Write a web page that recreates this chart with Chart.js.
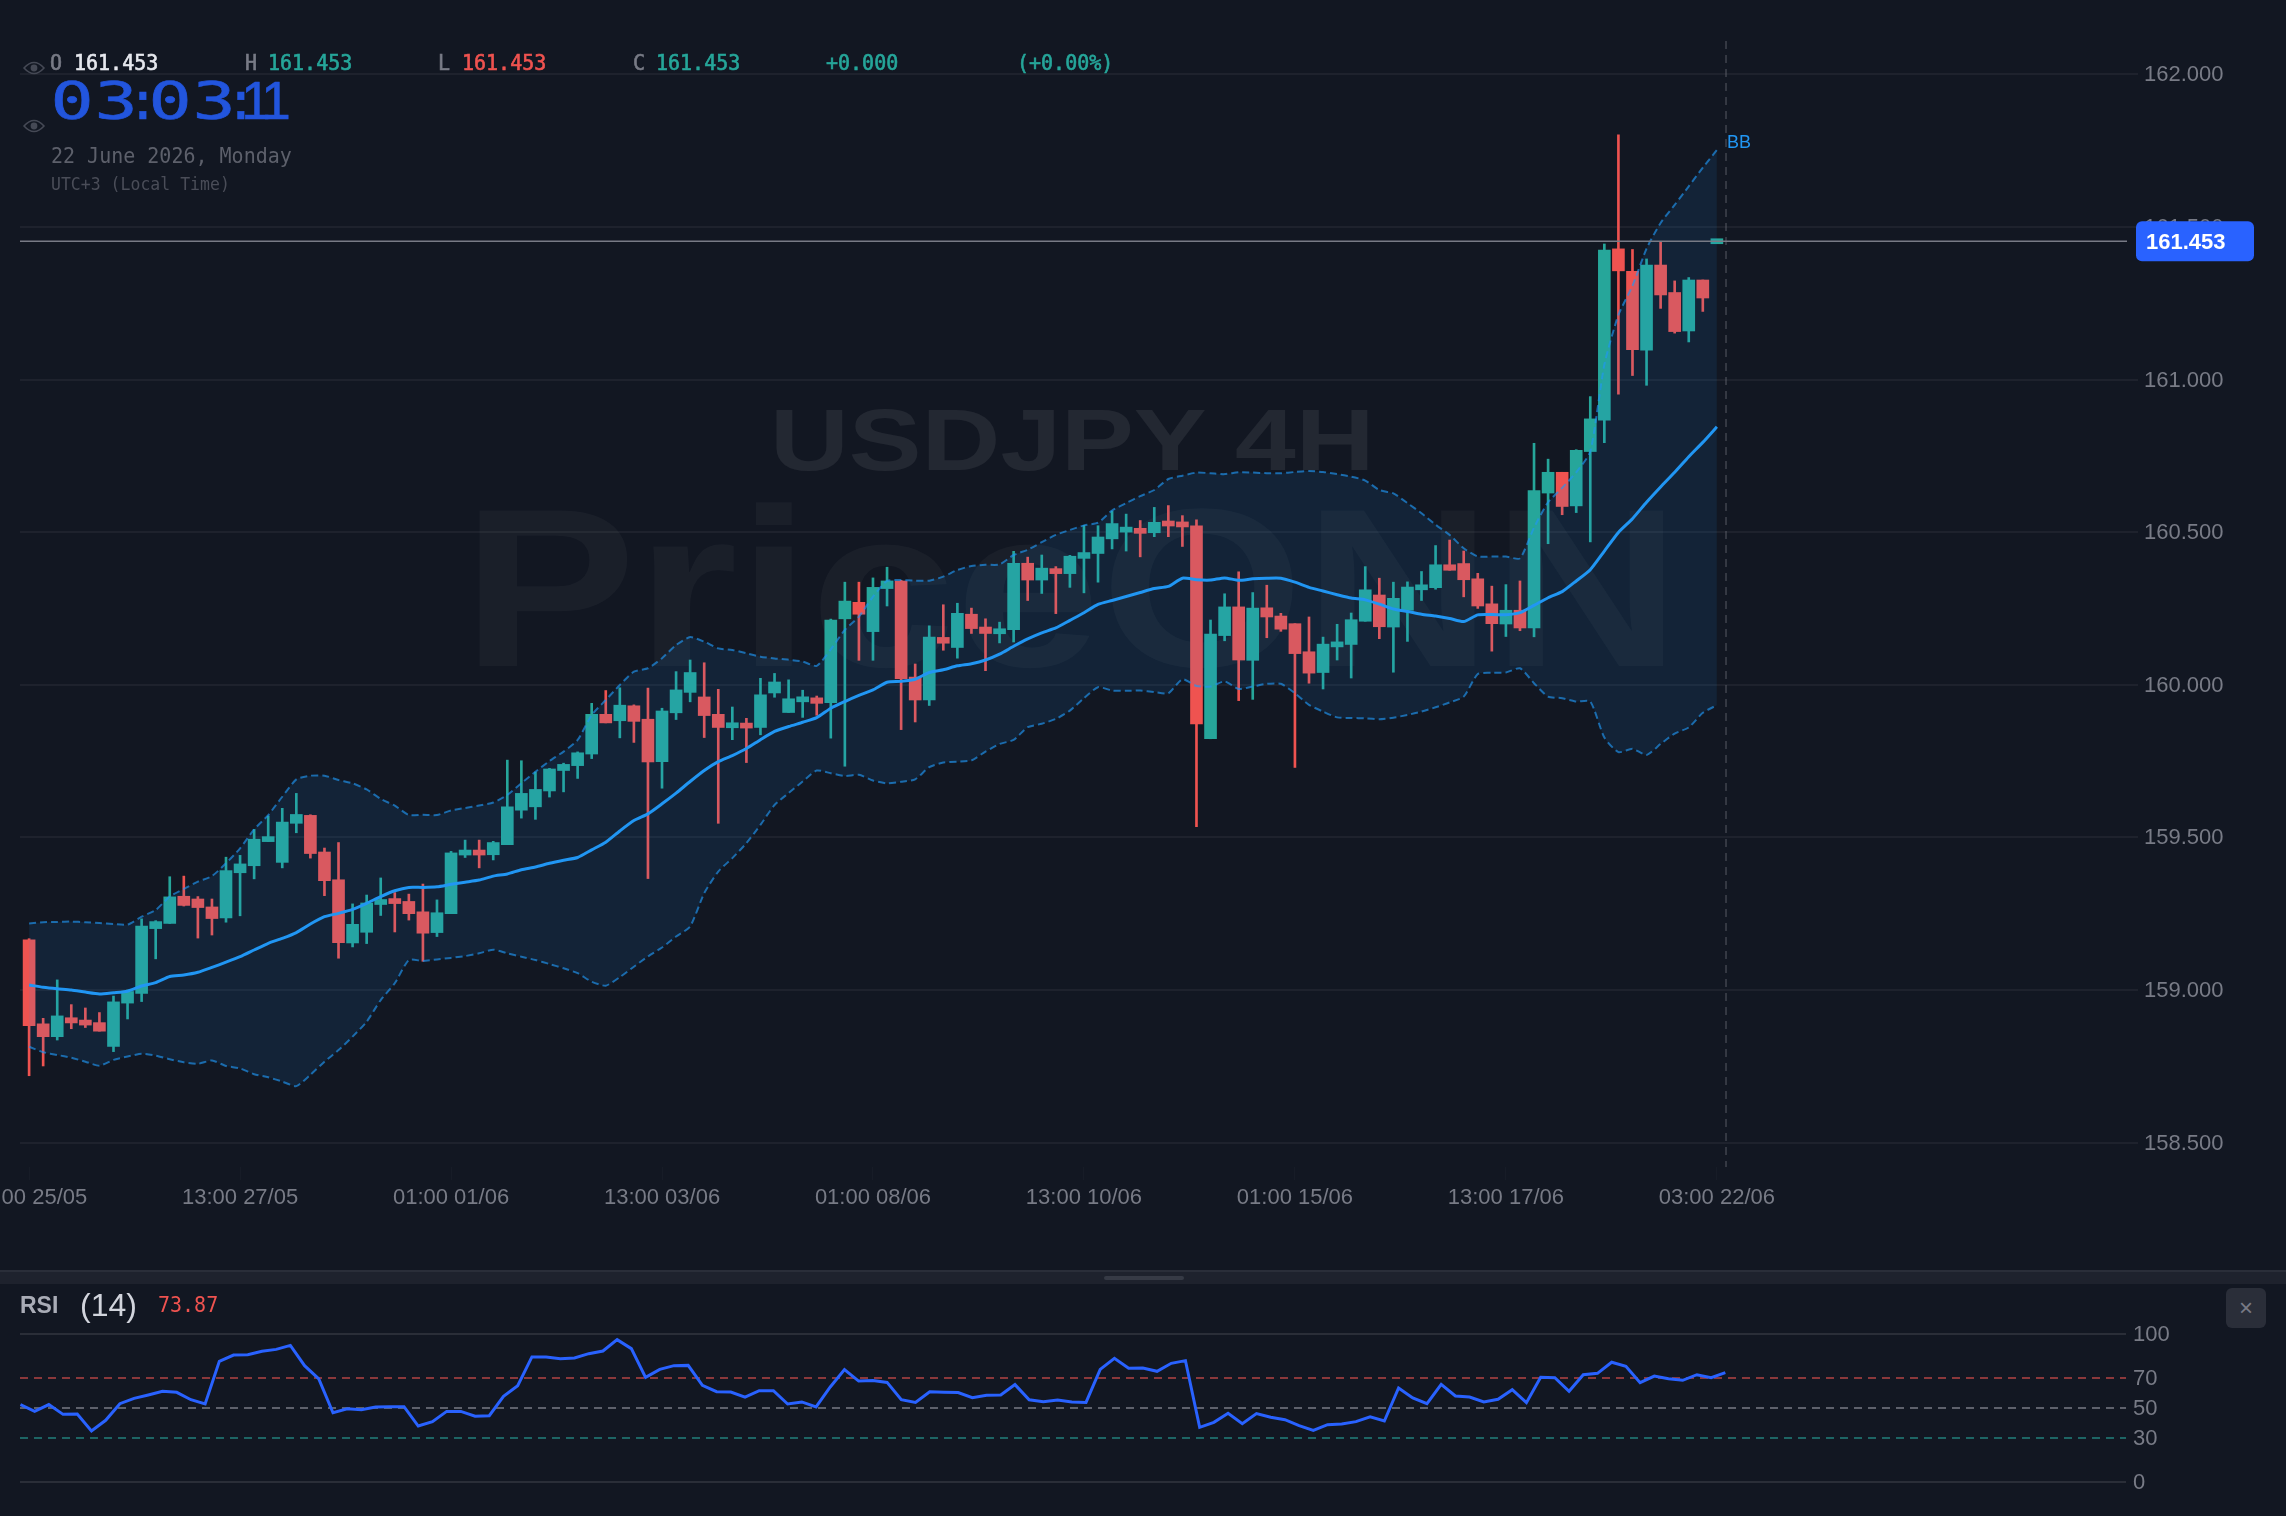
<!DOCTYPE html>
<html lang="en">
  <head>
    <meta charset="UTF-8">
    <title>USDJPY 4H</title>
    <script src="https://cdn.jsdelivr.net/npm/chart.js@4.4.7/dist/chart.umd.min.js"></script>
    <style>
    html, body { margin: 0; padding: 0; background: #121722; }
    body { position: relative; width: 2286px; height: 1516px; overflow: hidden; font-family: "Liberation Sans", sans-serif; }
    canvas { position: absolute; left: 0; display: block; }
    #priceChart { top: 0; }
    #rsiChart { top: 1284px; }
    .abs { position: absolute; white-space: nowrap; }
    .mono { font: 20px/24px "DejaVu Sans Mono", monospace; transform: scaleY(1.06); transform-origin: left center; }
    .heavy { -webkit-text-stroke: 0.6px currentColor; }
    .mark { font-weight: 700; line-height: 1; transform-origin: left top; }
    #wmSymbol { left: 770px; top: 396px; font-size: 88px; color: rgba(255,255,255,0.075); transform: scaleX(1.24); }
    #wmBrand { left: 462px; top: 475px; font-size: 226px; color: rgba(255,255,255,0.035); transform: scaleX(1.155); }
    #clock { left: 50px; top: 71px; font: 52px/60px "DejaVu Sans Mono", monospace; color: #2255dd; -webkit-text-stroke: 0.6px #2255dd; }
    #clock span { display: inline-flex; justify-content: center; width: 44px; transform: scaleX(1.38); }
    #clock span.sep { width: 10px; transform: none; }
    #clock span.one { width: 20px; transform: none; font-family: "Liberation Sans"; font-size: 53px; }
    #divider { left: 0; top: 1270px; width: 2286px; height: 14px; background: #1e222d; border-top: 2px solid #2a2e39; box-sizing: border-box; }
    #grip { left: 1104px; top: 1276px; width: 80px; height: 4px; border-radius: 2px; background: #363a45; }
    #closeBtn { left: 2226px; top: 1288px; width: 40px; height: 40px; border-radius: 6px; background: #2a2e39; color: #787b86; font-size: 24px; line-height: 40px; text-align: center; }
    </style>
  </head>
  <body>
    <div class="abs mark" id="wmSymbol">USDJPY 4H</div>
    <div class="abs mark" id="wmBrand">PriceONN</div>
    <canvas id="priceChart" width="2286" height="1268"></canvas>
    <canvas id="rsiChart" width="2286" height="232"></canvas>

    <svg class="abs" style="left:23px;top:60px" width="22" height="16" viewBox="0 0 22 16"><path d="M1 8 Q11 -3 21 8 Q11 19 1 8 Z" fill="none" stroke="#454955" stroke-width="1.6"/><circle cx="11" cy="8" r="3.4" fill="#454955"/></svg>
    <svg class="abs" style="left:23px;top:118px" width="22" height="16" viewBox="0 0 22 16"><path d="M1 8 Q11 -3 21 8 Q11 19 1 8 Z" fill="none" stroke="#454955" stroke-width="1.6"/><circle cx="11" cy="8" r="3.4" fill="#454955"/></svg>

    <div class="abs mono heavy" style="left:50px;top:51px;color:#787b86">O</div>
    <div class="abs mono heavy" style="left:74px;top:51px;color:#e6e8ee">161.453</div>
    <div class="abs mono heavy" style="left:245px;top:51px;color:#787b86">H</div>
    <div class="abs mono heavy" style="left:268px;top:51px;color:#26a69a">161.453</div>
    <div class="abs mono heavy" style="left:438px;top:51px;color:#787b86">L</div>
    <div class="abs mono heavy" style="left:462px;top:51px;color:#ef5350">161.453</div>
    <div class="abs mono heavy" style="left:633px;top:51px;color:#787b86">C</div>
    <div class="abs mono heavy" style="left:656px;top:51px;color:#26a69a">161.453</div>
    <div class="abs mono heavy" style="left:826px;top:51px;color:#26a69a">+0.000</div>
    <div class="abs mono heavy" style="left:1017px;top:51px;color:#26a69a">(+0.00%)</div>

    <div class="abs" id="clock"><span>0</span><span>3</span><span class="sep">:</span><span>0</span><span>3</span><span class="sep">:</span><span class="one">1</span><span class="one">1</span></div>
    <div class="abs mono" style="left:51px;top:144px;color:#5d606b">22 June 2026, Monday</div>
    <div class="abs mono" style="left:51px;top:173px;color:#4a4d58;font-size:16.5px">UTC+3 (Local Time)</div>

    <div class="abs" id="divider"></div>
    <div class="abs" id="grip"></div>
    <div class="abs" style="left:20px;top:1292px;font-size:23px;line-height:26px;font-weight:700;color:#a9acb6">RSI</div>
    <div class="abs" style="left:80px;top:1286px;font-size:32px;line-height:38px;color:#d1d4dc">(14)</div>
    <div class="abs mono" style="left:158px;top:1293px;color:#ef5350">73.87</div>
    <div class="abs" id="closeBtn">×</div>

    <script>
    const lastPrice = 161.453;
    const nowIndex = 120.65;

    const xTickLabels = ['01:00 25/05', '13:00 27/05', '01:00 01/06', '13:00 03/06', '01:00 08/06', '13:00 10/06', '01:00 15/06', '13:00 17/06', '03:00 22/06'];
    const rsiTicks = [0, 30, 50, 70, 100];

    const opens = [
      159.164, 158.889, 158.847, 158.909, 158.898, 158.893, 158.815, 158.957, 158.989, 159.201,
      159.218, 159.307, 159.298, 159.272, 159.236, 159.384, 159.407, 159.486, 159.418, 159.546,
      159.572, 159.452, 159.361, 159.154, 159.189, 159.280, 159.295, 159.290, 159.256, 159.188,
      159.250, 159.442, 159.456, 159.443, 159.476, 159.589, 159.600, 159.652, 159.719, 159.735,
      159.773, 159.903, 159.882, 159.931, 159.887, 159.748, 159.908, 159.975, 159.960, 159.903,
      159.859, 159.872, 159.860, 159.973, 159.909, 159.944, 159.957, 159.941, 160.216, 160.270,
      160.174, 160.315, 160.340, 160.025, 159.950, 160.155, 160.122, 160.231, 160.189, 160.167,
      160.180, 160.398, 160.343, 160.379, 160.364, 160.414, 160.430, 160.478, 160.500, 160.510,
      160.498, 160.532, 160.529, 160.521, 159.823, 160.161, 160.255, 160.080, 160.252, 160.225,
      160.200, 160.108, 160.040, 160.124, 160.132, 160.208, 160.294, 160.189, 160.244, 160.311,
      160.318, 160.393, 160.397, 160.347, 160.265, 160.199, 160.244, 160.186, 160.628, 160.696,
      160.586, 160.764, 160.867, 161.428, 161.354, 161.096, 161.375, 161.285, 161.159, 161.326,
      161.453
    ];
    const highs = [
      159.168, 158.907, 159.033, 158.952, 158.941, 158.926, 158.980, 159.000, 159.233, 159.227,
      159.371, 159.373, 159.306, 159.298, 159.435, 159.441, 159.526, 159.570, 159.595, 159.644,
      159.574, 159.465, 159.483, 159.282, 159.311, 159.367, 159.319, 159.314, 159.347, 159.295,
      159.454, 159.491, 159.491, 159.487, 159.753, 159.751, 159.714, 159.726, 159.743, 159.780,
      159.939, 159.981, 159.990, 159.934, 159.989, 159.923, 160.043, 160.081, 160.072, 159.985,
      159.927, 159.890, 160.021, 160.037, 160.016, 159.982, 159.963, 160.215, 160.336, 160.336,
      160.350, 160.385, 160.342, 160.068, 160.193, 160.262, 160.267, 160.251, 160.216, 160.205,
      160.437, 160.418, 160.425, 160.387, 160.424, 160.522, 160.521, 160.569, 160.559, 160.538,
      160.581, 160.587, 160.554, 160.540, 160.212, 160.298, 160.370, 160.302, 160.326, 160.234,
      160.200, 160.222, 160.156, 160.198, 160.235, 160.387, 160.349, 160.336, 160.337, 160.371,
      160.456, 160.474, 160.438, 160.365, 160.323, 160.328, 160.340, 160.791, 160.739, 160.696,
      160.770, 160.944, 161.444, 161.802, 161.426, 161.395, 161.452, 161.323, 161.334, 161.326,
      161.453
    ];
    const lows = [
      158.719, 158.751, 158.836, 158.873, 158.877, 158.865, 158.798, 158.905, 158.962, 159.102,
      159.218, 159.275, 159.170, 159.180, 159.222, 159.243, 159.364, 159.486, 159.400, 159.515,
      159.432, 159.309, 159.104, 159.141, 159.152, 159.244, 159.190, 159.229, 159.094, 159.175,
      159.250, 159.434, 159.400, 159.426, 159.476, 159.563, 159.559, 159.632, 159.649, 159.693,
      159.758, 159.875, 159.826, 159.811, 159.365, 159.661, 159.886, 159.944, 159.827, 159.546,
      159.820, 159.745, 159.836, 159.959, 159.909, 159.893, 159.900, 159.825, 159.733, 160.080,
      160.080, 160.258, 159.853, 159.878, 159.932, 160.113, 160.087, 160.168, 160.046, 160.137,
      160.140, 160.276, 160.299, 160.233, 160.319, 160.301, 160.336, 160.445, 160.438, 160.419,
      160.485, 160.485, 160.453, 159.535, 159.823, 160.144, 159.948, 159.952, 160.154, 160.175,
      159.729, 160.005, 159.986, 160.081, 160.022, 160.208, 160.151, 160.041, 160.142, 160.276,
      160.313, 160.375, 160.288, 160.250, 160.110, 160.158, 160.177, 160.157, 160.462, 160.557,
      160.564, 160.468, 160.793, 160.952, 161.013, 160.981, 161.233, 161.152, 161.123, 161.223,
      161.453
    ];
    const closes = [
      158.883, 158.847, 158.915, 158.892, 158.885, 158.865, 158.961, 158.995, 159.209, 159.224,
      159.305, 159.277, 159.270, 159.234, 159.391, 159.413, 159.494, 159.502, 159.550, 159.575,
      159.447, 159.358, 159.155, 159.215, 159.285, 159.295, 159.283, 159.250, 159.186, 159.253,
      159.449, 159.455, 159.442, 159.483, 159.600, 159.644, 159.657, 159.724, 159.739, 159.777,
      159.903, 159.875, 159.933, 159.880, 159.747, 159.914, 159.983, 160.040, 159.899, 159.860,
      159.872, 159.858, 159.967, 160.009, 159.954, 159.956, 159.939, 160.212, 160.274, 160.231,
      160.319, 160.340, 160.020, 159.950, 160.156, 160.136, 160.234, 160.184, 160.168, 160.183,
      160.398, 160.343, 160.382, 160.364, 160.421, 160.433, 160.484, 160.528, 160.514, 160.496,
      160.532, 160.520, 160.517, 159.872, 160.166, 160.255, 160.081, 160.251, 160.222, 160.182,
      160.102, 160.038, 160.133, 160.136, 160.213, 160.311, 160.190, 160.283, 160.320, 160.323,
      160.393, 160.375, 160.344, 160.258, 160.200, 160.244, 160.186, 160.636, 160.696, 160.584,
      160.768, 160.871, 161.424, 161.356, 161.098, 161.375, 161.277, 161.157, 161.326, 161.267,
      161.453
    ];

    const bbUpper = [
      159.218, 159.222, 159.223, 159.224, 159.222, 159.219, 159.216, 159.214, 159.240, 159.262,
      159.306, 159.331, 159.355, 159.373, 159.415, 159.464, 159.526, 159.573, 159.633, 159.690,
      159.702, 159.702, 159.688, 159.677, 159.657, 159.626, 159.604, 159.573, 159.574, 159.573,
      159.588, 159.596, 159.604, 159.614, 159.639, 159.677, 159.715, 159.750, 159.781, 159.819,
      159.901, 159.950, 159.999, 160.043, 160.054, 160.087, 160.130, 160.156, 160.141, 160.119,
      160.114, 160.103, 160.092, 160.086, 160.082, 160.076, 160.062, 160.116, 160.180, 160.223,
      160.289, 160.340, 160.343, 160.341, 160.341, 160.354, 160.376, 160.389, 160.393, 160.394,
      160.425, 160.442, 160.467, 160.491, 160.507, 160.522, 160.531, 160.571, 160.595, 160.618,
      160.638, 160.674, 160.685, 160.695, 160.693, 160.690, 160.696, 160.695, 160.693, 160.693,
      160.697, 160.700, 160.697, 160.690, 160.682, 160.669, 160.638, 160.627, 160.595, 160.562,
      160.524, 160.491, 160.447, 160.420, 160.420, 160.420, 160.414, 160.515, 160.598, 160.645,
      160.696, 160.764, 161.049, 161.212, 161.307, 161.429, 161.513, 161.572, 161.633, 161.694,
      161.752
    ];
    const bbMiddle = [
      159.016, 159.009, 159.004, 159.000, 158.993, 158.987, 158.991, 158.996, 159.013, 159.024,
      159.044, 159.049, 159.058, 159.074, 159.091, 159.109, 159.131, 159.153, 159.169, 159.188,
      159.216, 159.240, 159.251, 159.264, 159.284, 159.306, 159.325, 159.336, 159.336, 159.338,
      159.346, 159.353, 159.360, 159.373, 159.380, 159.394, 159.403, 159.415, 159.425, 159.434,
      159.459, 159.484, 159.521, 159.555, 159.577, 159.610, 159.645, 159.683, 159.719, 159.748,
      159.768, 159.791, 159.820, 159.847, 159.863, 159.877, 159.892, 159.923, 159.945, 159.965,
      159.983, 160.008, 160.011, 160.018, 160.040, 160.049, 160.062, 160.069, 160.081, 160.100,
      160.126, 160.150, 160.170, 160.186, 160.211, 160.236, 160.263, 160.276, 160.289, 160.302,
      160.315, 160.322, 160.349, 160.344, 160.343, 160.350, 160.342, 160.347, 160.349, 160.349,
      160.336, 160.319, 160.307, 160.295, 160.284, 160.278, 160.264, 160.248, 160.240, 160.231,
      160.225, 160.217, 160.207, 160.229, 160.230, 160.229, 160.236, 160.260, 160.285, 160.305,
      160.340, 160.377, 160.438, 160.499, 160.544, 160.598, 160.648, 160.696, 160.747, 160.794,
      160.845
    ];
    const bbLower = [
      158.814, 158.796, 158.787, 158.778, 158.765, 158.752, 158.771, 158.782, 158.791, 158.785,
      158.773, 158.763, 158.758, 158.769, 158.751, 158.743, 158.724, 158.714, 158.700, 158.685,
      158.722, 158.765, 158.803, 158.847, 158.896, 158.967, 159.022, 159.098, 159.095, 159.100,
      159.105, 159.111, 159.120, 159.132, 159.120, 159.109, 159.098, 159.085, 159.071, 159.055,
      159.027, 159.014, 159.042, 159.076, 159.110, 159.139, 159.175, 159.208, 159.317, 159.388,
      159.432, 159.481, 159.541, 159.606, 159.645, 159.683, 159.719, 159.710, 159.701, 159.705,
      159.686, 159.677, 159.682, 159.690, 159.730, 159.745, 159.748, 159.752, 159.781, 159.806,
      159.819, 159.861, 159.872, 159.888, 159.915, 159.956, 159.992, 159.981, 159.980, 159.981,
      159.976, 159.972, 160.018, 159.996, 159.994, 160.011, 159.986, 159.994, 160.003, 160.003,
      159.972, 159.934, 159.912, 159.893, 159.891, 159.890, 159.887, 159.892, 159.901, 159.912,
      159.926, 159.942, 159.961, 160.035, 160.039, 160.040, 160.054, 160.005, 159.961, 159.956,
      159.945, 159.945, 159.827, 159.779, 159.790, 159.770, 159.806, 159.840, 159.860, 159.908,
      159.933
    ];
    const rsiValues = [
      52.3, 47.7, 52.3, 45.7, 45.9, 34.5, 41.7, 52.9, 56.5, 58.8,
      61.3, 60.6, 55.6, 52.7, 81.5, 85.8, 86.0, 88.3, 89.6, 92.3,
      78.6, 69.6, 46.8, 49.5, 48.9, 50.7, 50.9, 50.9, 37.8, 40.8,
      47.7, 47.7, 44.4, 44.8, 57.9, 65.1, 84.5, 84.5, 83.3, 83.8,
      86.7, 88.5, 96.2, 90.1, 70.7, 76.1, 78.6, 78.8, 65.3, 61.0,
      60.8, 57.4, 61.7, 61.7, 52.7, 54.1, 50.7, 64.2, 75.9, 68.2,
      68.5, 67.3, 55.6, 53.8, 61.0, 60.6, 60.4, 57.0, 58.6, 58.8,
      65.8, 55.6, 54.3, 55.4, 54.1, 53.8, 76.1, 83.6, 76.8, 77.0,
      74.8, 80.2, 82.0, 36.9, 40.3, 46.4, 39.4, 46.2, 43.7, 42.1,
      38.1, 34.9, 38.7, 39.2, 40.8, 44.1, 41.2, 63.5, 56.8, 52.9,
      66.0, 58.1, 57.4, 54.1, 55.9, 62.4, 53.6, 70.7, 70.5, 61.3,
      72.5, 73.4, 80.9, 78.2, 67.1, 71.6, 69.8, 68.7, 72.5, 70.5,
      73.87
    ];

    const UP = '#26a69a';
    const DOWN = '#ef5350';
    const AXIS_TEXT = '#787b86';
    const GRID = 'rgba(255, 255, 255, 0.05)';
    const BB_BLUE = '#2196f3';
    const X_TICK_STEP = 15;

    Chart.defaults.font.family = '"Liberation Sans", sans-serif';
    Chart.defaults.font.size = 22;
    Chart.defaults.animation = false;

    const candleColor = (ctx) => closes[ctx.dataIndex] >= opens[ctx.dataIndex] ? UP : DOWN;
    const series = (values) => values.map((y, x) => ({ x, y }));
    const fixedBox = (scale, key, size) => {
      scale[key] = size;
      scale.paddingLeft = scale.paddingRight = scale.paddingTop = scale.paddingBottom = 0;
    };

    const bandLine = (label, values, extra) => ({
      type: 'line',
      label,
      data: series(values),
      borderColor: 'rgba(33, 150, 243, 0.65)',
      borderWidth: 2,
      borderDash: [7, 4],
      pointRadius: 0,
      tension: 0.2,
      ...extra
    });

    // price line, countdown marker, last price tag and the BB label
    const priceOverlay = {
      id: 'priceOverlay',
      afterDatasetsDraw(chart) {
        const { ctx, chartArea, scales } = chart;
        const y = scales.y.getPixelForValue(lastPrice);
        const nowX = scales.x.getPixelForValue(nowIndex);

        ctx.save();
        ctx.strokeStyle = 'rgba(120, 123, 134, 0.45)';
        ctx.lineWidth = 1.5;
        ctx.setLineDash([8, 6]);
        ctx.beginPath();
        ctx.moveTo(nowX, chartArea.top);
        ctx.lineTo(nowX, chartArea.bottom);
        ctx.stroke();

        ctx.setLineDash([]);
        ctx.strokeStyle = '#787b86';
        ctx.lineWidth = 1.5;
        ctx.beginPath();
        ctx.moveTo(chartArea.left, y);
        ctx.lineTo(chartArea.right, y);
        ctx.stroke();

        ctx.fillStyle = BB_BLUE;
        ctx.font = '18px "Liberation Sans"';
        ctx.textAlign = 'left';
        ctx.textBaseline = 'alphabetic';
        ctx.fillText('BB', nowX + 1, scales.y.getPixelForValue(bbUpper[bbUpper.length - 1]) - 2);
        ctx.restore();
      },
      afterDraw(chart) {
        const { ctx, chartArea, scales } = chart;
        const y = scales.y.getPixelForValue(lastPrice);
        ctx.save();
        ctx.fillStyle = '#2962ff';
        ctx.beginPath();
        ctx.roundRect(chartArea.right + 9, y - 20, 118, 40, 6);
        ctx.fill();
        ctx.fillStyle = '#ffffff';
        ctx.font = 'bold 22px "Liberation Sans"';
        ctx.textAlign = 'left';
        ctx.textBaseline = 'middle';
        ctx.fillText(lastPrice.toFixed(3), chartArea.right + 19, y + 2);
        ctx.restore();
      }
    };

    new Chart(document.getElementById('priceChart').getContext('2d'), {
      type: 'bar',
      data: {
        datasets: [
          {
            label: 'Wicks',
            data: lows.map((low, x) => ({ x, y: [low, highs[x]] })),
            backgroundColor: candleColor,
            barThickness: 2,
            maxBarThickness: 2,
            grouped: false,
            order: 5
          },
          {
            label: 'Bodies',
            data: opens.map((open, x) => ({ x, y: [open, closes[x]] })),
            backgroundColor: candleColor,
            barThickness: 12,
            maxBarThickness: 12,
            minBarLength: 5,
            base: lastPrice,
            grouped: false,
            order: 4
          },
          bandLine('BB upper', bbUpper, {
            fill: { target: '+1' },
            backgroundColor: 'rgba(33, 150, 243, 0.1)',
            order: 3
          }),
          bandLine('BB lower', bbLower, { order: 2 }),
          {
            type: 'line',
            label: 'BB middle',
            data: series(bbMiddle),
            borderColor: BB_BLUE,
            borderWidth: 3,
            pointRadius: 0,
            tension: 0.2,
            order: 1
          }
        ]
      },
      options: {
        responsive: false,
        layout: { padding: { left: 20, top: 41 } },
        plugins: { legend: { display: false }, tooltip: { enabled: false } },
        scales: {
          x: {
            type: 'linear',
            offset: false,
            min: -0.647,
            max: 149.16,
            afterBuildTicks: (scale) => { scale.ticks = xTickLabels.map((_, k) => ({ value: k * X_TICK_STEP })); },
            afterFit: (scale) => fixedBox(scale, 'height', 101),
            border: { display: false },
            grid: { offset: false, drawOnChartArea: false, color: 'rgba(255, 255, 255, 0.025)', tickLength: 13 },
            ticks: {
              autoSkip: false,
              maxRotation: 0,
              minRotation: 0,
              padding: 5,
              color: AXIS_TEXT,
              callback: (value) => xTickLabels[value / X_TICK_STEP]
            }
          },
          y: {
            position: 'right',
            min: 158.42,
            max: 162.109,
            afterFit: (scale) => fixedBox(scale, 'width', 159),
            border: { display: false },
            grid: { color: GRID, lineWidth: 2, tickLength: 11 },
            ticks: {
              stepSize: 0.5,
              includeBounds: false,
              padding: 6,
              labelOffset: 1,
              color: AXIS_TEXT,
              callback: (value) => value.toFixed(3)
            }
          }
        }
      },
      plugins: [priceOverlay]
    });

    // dashed guide lines at 70/50/30, solid at the 0 and 100 limits
    const rsiGridColor = (ctx) => {
      const value = ctx.tick && ctx.tick.value;
      if (value === 70) return 'rgba(239, 83, 80, 0.55)';
      if (value === 50) return 'rgba(120, 123, 134, 0.75)';
      if (value === 30) return 'rgba(38, 166, 154, 0.55)';
      return 'rgba(255, 255, 255, 0.1)';
    };

    new Chart(document.getElementById('rsiChart').getContext('2d'), {
      type: 'line',
      data: {
        datasets: [{
          label: 'RSI',
          data: series(rsiValues),
          borderColor: '#2962ff',
          borderWidth: 3,
          pointRadius: 0,
          tension: 0
        }]
      },
      options: {
        responsive: false,
        layout: { padding: { left: 20, top: 50, bottom: 34 } },
        plugins: { legend: { display: false }, tooltip: { enabled: false } },
        scales: {
          x: { type: 'linear', display: false, min: -0.03, max: 148.2 },
          y: {
            position: 'right',
            min: 0,
            max: 100,
            afterFit: (scale) => fixedBox(scale, 'width', 160),
            afterBuildTicks: (scale) => { scale.ticks = rsiTicks.map((value) => ({ value })); },
            border: {
              display: false,
              dash: (ctx) => (ctx.tick && ctx.tick.value % 100 !== 0 ? [8, 6] : [])
            },
            grid: { color: rsiGridColor, lineWidth: 2, drawTicks: false },
            ticks: { padding: 7, labelOffset: 1, color: AXIS_TEXT }
          }
        }
      }
    });
    </script>
  </body>
</html>
